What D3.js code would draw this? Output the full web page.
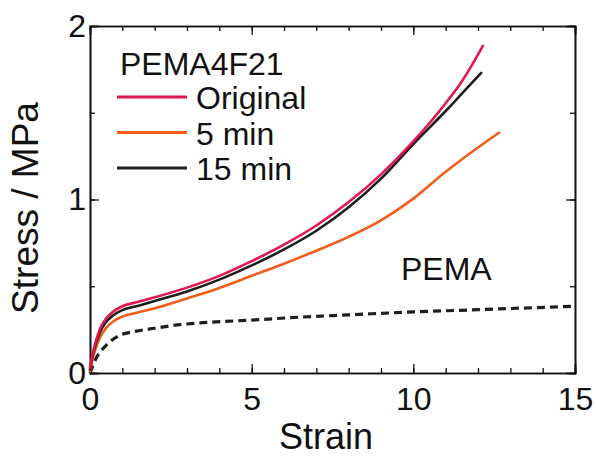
<!DOCTYPE html>
<html>
<head>
<meta charset="utf-8">
<script src="https://cdn.jsdelivr.net/npm/d3@7"></script>
<style>
  html, body { margin: 0; padding: 0; background: #fff; }
  svg { display: block; font-family: "Liberation Sans", Arial, Helvetica, sans-serif; }
  .axis path { stroke: #111; stroke-width: 1.6; }
  .axis line { stroke: #111; stroke-width: 1.3; }
  .axis text { font-size: 32px; fill: #111; }
</style>
</head>
<body>
<svg id="chart" width="596" height="456"></svg>
<script>
// strain values and stress (MPa)
const strainOriginal = [0, 0.08, 0.19, 0.3, 0.5, 0.7, 1, 1.5, 2, 3, 4, 5, 6, 7, 8, 9, 10, 11, 11.5, 12.15];
const stressOriginal = [0.03, 0.11, 0.19, 0.25, 0.315, 0.352, 0.385, 0.41, 0.436, 0.492, 0.56, 0.645, 0.74, 0.85, 0.985, 1.145, 1.335, 1.555, 1.68, 1.885];

const strain5min = [0, 0.08, 0.19, 0.3, 0.5, 0.7, 1, 1.5, 2, 3, 4, 5, 6, 7, 8, 9, 10, 11, 12, 12.65];
const stress5min = [0.01, 0.08, 0.15, 0.20, 0.26, 0.295, 0.325, 0.35, 0.373, 0.43, 0.49, 0.56, 0.63, 0.705, 0.785, 0.88, 1.005, 1.16, 1.30, 1.385];

const strain15min = [0, 0.08, 0.19, 0.3, 0.5, 0.7, 1, 1.5, 2, 3, 4, 5, 6, 7, 8, 9, 10, 11, 11.5, 12.1];
const stress15min = [0.02, 0.10, 0.175, 0.232, 0.295, 0.33, 0.362, 0.388, 0.415, 0.47, 0.538, 0.62, 0.712, 0.82, 0.955, 1.12, 1.32, 1.51, 1.61, 1.73];

const strainPEMA = [0, 0.19, 0.5, 0.9, 1.4, 2, 2.6, 3.5, 5, 6.5, 8, 10, 12, 15];
const stressPEMA = [0.0, 0.085, 0.16, 0.215, 0.24, 0.258, 0.275, 0.29, 0.305, 0.322, 0.335, 0.352, 0.365, 0.385];

const xMajor = [0, 5, 10, 15];
const xMinor = d3.range(0, 16, 1);
const yMajor = [0, 1, 2];
const yMinor = [0, 0.5, 1, 1.5, 2];

const seriesNames = ["Original", "5 min", "15 min"];
const seriesColors = ["#e3174f", "#f25c19", "#1e1e1e"];

const svg = d3.select("#chart");
const margin = { top: 26, right: 21, bottom: 83, left: 90 };
const width = 596 - margin.left - margin.right;
const height = 456 - margin.top - margin.bottom;

const x = d3.scaleLinear().domain([0, 15]).range([0, width]);
const y = d3.scaleLinear().domain([0, 2]).range([height, 0]);

const g = svg.append("g").attr("transform", `translate(${margin.left},${margin.top})`);

// inward ticks on every side
g.append("g").attr("class", "axis").attr("transform", `translate(0,${height})`)
  .call(d3.axisBottom(x).tickValues(xMinor).tickSize(-5).tickFormat(""));
g.append("g").attr("class", "axis").attr("transform", `translate(0,${height})`)
  .call(d3.axisBottom(x).tickValues(xMajor).tickSize(-9).tickPadding(14).tickFormat(d3.format("d")))
  .selectAll("text").attr("dy", "0.71em");
g.append("g").attr("class", "axis")
  .call(d3.axisTop(x).tickValues(xMinor).tickSize(-5).tickFormat(""));
g.append("g").attr("class", "axis")
  .call(d3.axisTop(x).tickValues(xMajor).tickSize(-9).tickFormat(""));

g.append("g").attr("class", "axis")
  .call(d3.axisLeft(y).tickValues(yMinor).tickSize(-5).tickFormat(""));
g.append("g").attr("class", "axis")
  .call(d3.axisLeft(y).tickValues(yMajor).tickSize(-9).tickPadding(4).tickFormat(d3.format("d")));
g.append("g").attr("class", "axis").attr("transform", `translate(${width},0)`)
  .call(d3.axisRight(y).tickValues(yMinor).tickSize(-5).tickFormat(""));
g.append("g").attr("class", "axis").attr("transform", `translate(${width},0)`)
  .call(d3.axisRight(y).tickValues(yMajor).tickSize(-9).tickFormat(""));

const line = d3.line()
  .x(d => x(d[0]))
  .y(d => y(d[1]))
  .curve(d3.curveMonotoneX);

g.append("path")
  .datum(d3.zip(strainPEMA, stressPEMA))
  .attr("fill", "none")
  .attr("stroke", "#1e1e1e")
  .attr("stroke-width", 3.2)
  .attr("stroke-dasharray", "8,5")
  .attr("d", line);

// draw order: 5 min, 15 min, Original on top
const series = [
  { pts: d3.zip(strain5min, stress5min), color: seriesColors[1] },
  { pts: d3.zip(strain15min, stress15min), color: seriesColors[2] },
  { pts: d3.zip(strainOriginal, stressOriginal), color: seriesColors[0] }
];

series.forEach(s => {
  g.append("path")
    .datum(s.pts)
    .attr("fill", "none")
    .attr("stroke", s.color)
    .attr("stroke-width", 2.6)
    .attr("stroke-linecap", "round")
    .attr("d", line);
});

// legend
const legend = svg.append("g");
legend.append("text")
  .attr("x", 120).attr("y", 75)
  .attr("font-size", 32).attr("fill", "#111")
  .text("PEMA4F21");

seriesNames.forEach((name, i) => {
  const cy = 97 + i * 35.5;
  legend.append("line")
    .attr("x1", 117).attr("x2", 187)
    .attr("y1", cy).attr("y2", cy)
    .attr("stroke", seriesColors[i])
    .attr("stroke-width", 2.8);
  legend.append("text")
    .attr("x", 196).attr("y", cy + 12)
    .attr("font-size", 32).attr("fill", "#111")
    .text(name);
});

svg.append("text")
  .attr("x", 401).attr("y", 280)
  .attr("font-size", 32).attr("fill", "#111")
  .text("PEMA");

// axis titles
svg.append("text")
  .attr("x", 326).attr("y", 449)
  .attr("text-anchor", "middle")
  .attr("font-size", 36).attr("fill", "#111")
  .text("Strain");

svg.append("text")
  .attr("transform", "translate(38,208) rotate(-90)")
  .attr("text-anchor", "middle")
  .attr("font-size", 37).attr("fill", "#111")
  .text("Stress / MPa");
</script>
</body>
</html>
